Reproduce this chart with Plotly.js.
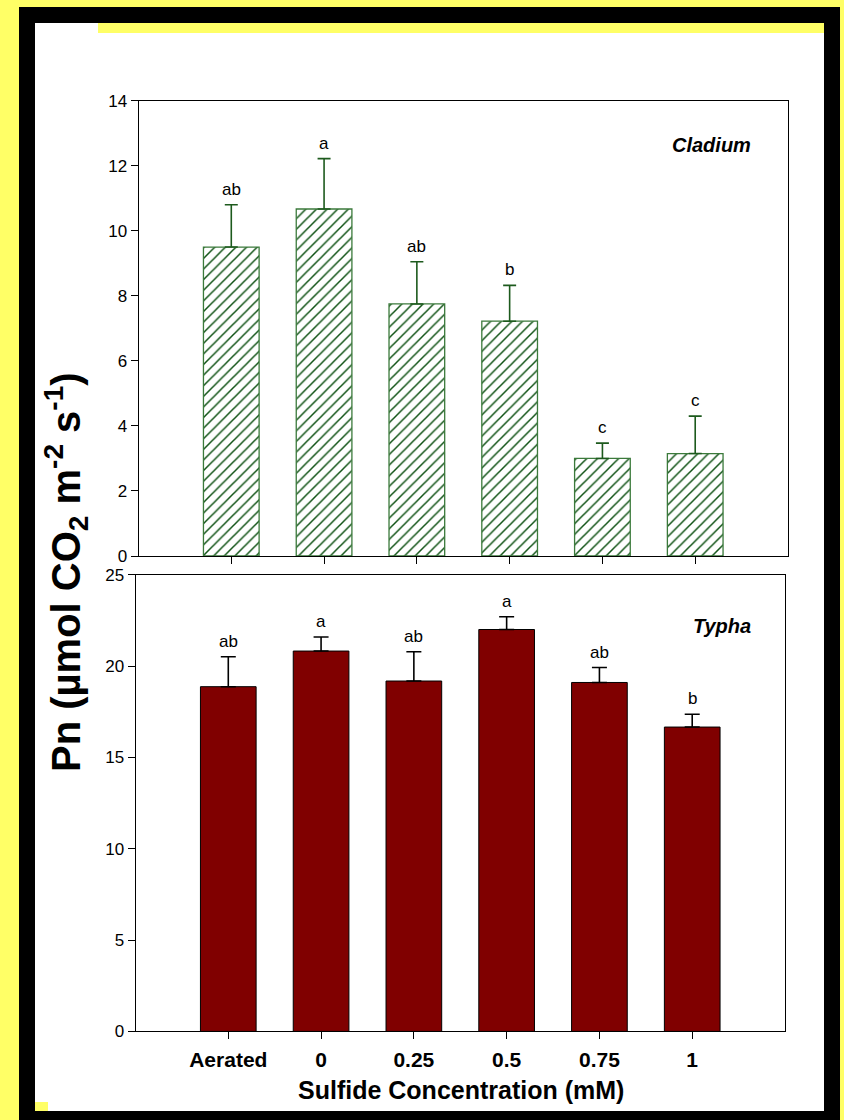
<!DOCTYPE html>
<html>
<head>
<meta charset="utf-8">
<script src="https://cdn.plot.ly/plotly-3.0.1.min.js"></script>
<style>
html,body{margin:0;padding:0;background:#FFFF66;}
#chart{width:844px;height:1120px;}
</style>
</head>
<body>
<div id="chart"></div>
<script>
// ---- data ----
var categories = ["Aerated", "0", "0.25", "0.5", "0.75", "1"];
var cladiumPn = [9.5, 10.67, 7.75, 7.22, 3.0, 3.15];
var cladiumSE = [1.3, 1.55, 1.3, 1.1, 0.47, 1.15];
var cladiumLetters = ["ab", "a", "ab", "b", "c", "c"];
var typhaPn = [18.87, 20.82, 19.18, 22.0, 19.1, 16.66];
var typhaSE = [1.64, 0.77, 1.6, 0.7, 0.82, 0.7];
var typhaLetters = ["ab", "a", "ab", "a", "ab", "b"];
var cladiumTicks = [0, 2, 4, 6, 8, 10, 12, 14];
var typhaTicks = [0, 5, 10, 15, 20, 25];

// ---- geometry helpers (page pixels -> paper fraction) ----
var W = 844, H = 1120;
function px(x){ return x / W; }
function py(y){ return 1 - y / H; }

var FONT = "Liberation Sans, Arial, sans-serif";
var zeros = categories.map(function(){ return 0; });

var traces = [
  {
    type: "bar", x: categories, y: cladiumPn, xaxis: "x", yaxis: "y",
    width: 0.6,
    marker: {
      color: "white",
      line: {color: "#3b7a3b", width: 1.3},
      pattern: {shape: "/", fgcolor: "#0f5214", bgcolor: "white", size: 7.5, solidity: 0.2}
    },
    error_y: {type: "data", symmetric: false, array: cladiumSE, arrayminus: zeros,
              color: "#1d5a1d", thickness: 1.6, width: 6.5},
    hoverinfo: "none", showlegend: false
  },
  {
    type: "bar", x: categories, y: typhaPn, xaxis: "x2", yaxis: "y2",
    width: 0.6,
    marker: {color: "#800000", line: {color: "#000000", width: 1}},
    error_y: {type: "data", symmetric: false, array: typhaSE, arrayminus: zeros,
              color: "#000000", thickness: 1.6, width: 7.5},
    hoverinfo: "none", showlegend: false
  }
];

var annotations = [];
categories.forEach(function(c, i){
  annotations.push({x: i, y: cladiumPn[i] + cladiumSE[i], xref: "x", yref: "y",
    text: cladiumLetters[i], showarrow: false, yanchor: "bottom", yshift: 4,
    font: {family: FONT, size: 17, color: "#000"}});
  annotations.push({x: i, y: typhaPn[i] + typhaSE[i], xref: "x2", yref: "y2",
    text: typhaLetters[i], showarrow: false, yanchor: "bottom", yshift: 4,
    font: {family: FONT, size: 17, color: "#000"}});
});
annotations.push({x: px(753), y: py(145), xref: "paper", yref: "paper", xanchor: "right", yanchor: "middle",
  text: "<b><i>Cladium</i></b>", showarrow: false, font: {family: FONT, size: 20, color: "#000"}});
annotations.push({x: px(753), y: py(626), xref: "paper", yref: "paper", xanchor: "right", yanchor: "middle",
  text: "<b><i>Typha</i></b>", showarrow: false, font: {family: FONT, size: 20, color: "#000"}});
annotations.push({x: px(66), y: py(572), xref: "paper", yref: "paper", xanchor: "center", yanchor: "middle",
  textangle: -90, showarrow: false,
  text: "<b>Pn (µmol CO<sub>2</sub> m<sup>-2</sup> s<sup>-1</sup>)</b>",
  font: {family: FONT, size: 40, color: "#000"}});
annotations.push({x: px(461), y: py(1090), xref: "paper", yref: "paper", xanchor: "center", yanchor: "middle",
  showarrow: false, text: "<b>Sulfide Concentration (mM)</b>",
  font: {family: FONT, size: 25, color: "#000"}});

var shapes = [
  {type: "rect", xref: "paper", yref: "paper", x0: px(19), x1: px(840), y0: py(1120), y1: py(7),
   fillcolor: "#000000", line: {width: 0}, layer: "below"},
  {type: "rect", xref: "paper", yref: "paper", x0: px(35), x1: px(824), y0: py(1111), y1: py(23),
   fillcolor: "#FFFFFF", line: {width: 0}, layer: "below"},
  {type: "rect", xref: "paper", yref: "paper", x0: px(98), x1: px(824), y0: py(33), y1: py(23),
   fillcolor: "#FFFF66", line: {width: 0}, layer: "below"},
  {type: "rect", xref: "paper", yref: "paper", x0: px(35), x1: px(48), y0: py(1111), y1: py(1102),
   fillcolor: "#FFFF66", line: {width: 0}, layer: "below"}
];

var axisCommon = {showgrid: false, zeroline: false, showline: true, linecolor: "#000", linewidth: 1,
  mirror: true, ticks: "outside", ticklen: 7, tickwidth: 1, tickcolor: "#000", automargin: false,
  tickfont: {family: FONT, size: 17, color: "#000"}};

function merge(a, b){ var o = {}; for (var k in a) o[k] = a[k]; for (var k2 in b) o[k2] = b[k2]; return o; }

var layout = {
  width: W, height: H,
  margin: {l: 0, r: 0, t: 0, b: 0},
  paper_bgcolor: "#FFFF66",
  plot_bgcolor: "rgba(0,0,0,0)",
  showlegend: false,
  bargap: 0.4,
  xaxis: merge(axisCommon, {type: "category", domain: [px(138.5), px(788)], anchor: "y",
    range: [-1, 6], showticklabels: false}),
  yaxis: merge(axisCommon, {domain: [py(556), py(100.7)], anchor: "x", range: [0, 14],
    tickvals: cladiumTicks, ticktext: cladiumTicks.map(String)}),
  xaxis2: merge(axisCommon, {type: "category", domain: [px(135.5), px(785)], anchor: "y2",
    range: [-1, 6], ticklabelstandoff: 2,
    tickfont: {family: FONT, size: 21, color: "#000", weight: "bold"}}),
  yaxis2: merge(axisCommon, {domain: [py(1031.4), py(574.7)], anchor: "x2", range: [0, 25],
    tickvals: typhaTicks, ticktext: typhaTicks.map(String)}),
  annotations: annotations,
  shapes: shapes
};

Plotly.newPlot("chart", traces, layout, {staticPlot: true, displayModeBar: false});
</script>
</body>
</html>
